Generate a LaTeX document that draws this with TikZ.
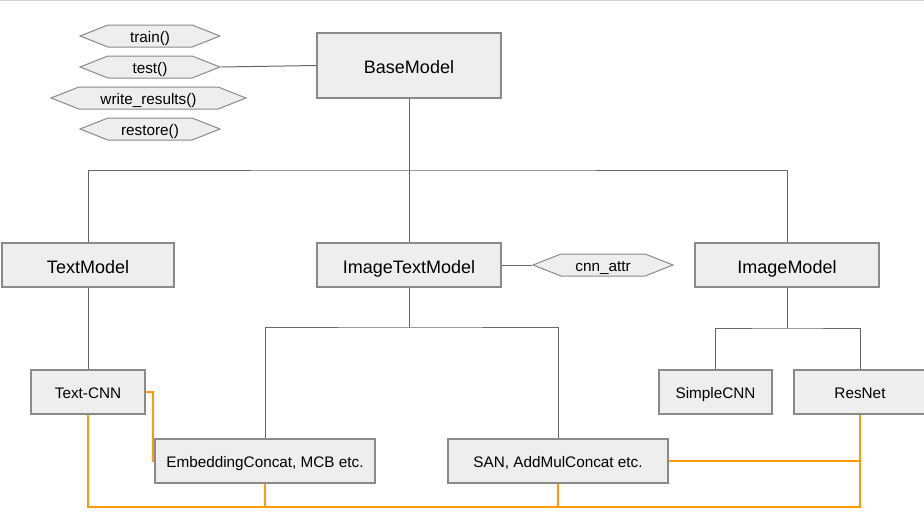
\documentclass[tikz,border=0pt]{standalone}
\usepackage{fontspec}
\setmainfont{Liberation Sans}
\usetikzlibrary{shapes.symbols}
\definecolor{boxfill}{HTML}{EEEEEE}
\definecolor{boxline}{HTML}{8A8A8A}
\definecolor{wirecol}{HTML}{666666}
\definecolor{linkcol}{HTML}{FF9A00}
\tikzset{
	bigbox/.style={draw=boxline, fill=boxfill, line width=1.2pt, minimum width=184pt, minimum height=44pt, inner sep=0pt, text height=16.5pt, text depth=0pt, font=\fontsize{18}{20}\selectfont},
	smallbox/.style={draw=boxline, fill=boxfill, line width=1.2pt, minimum height=44pt, inner sep=0pt, text height=13.5pt, text depth=0pt, font=\fontsize{15.3}{17}\selectfont},
	method/.style={signal, signal to=east and west, signal pointer angle=43, draw=boxline, fill=boxfill, line width=1pt, minimum width=140pt, minimum height=22pt, inner sep=0pt, text height=13.5pt, text depth=0pt, font=\fontsize{15.3}{17}\selectfont},
	wire/.style={draw=wirecol, line width=1pt},
	link/.style={draw=linkcol, line width=2pt}
}

\begin{document}
\begin{tikzpicture}[x=1pt, y=-1pt]
			%%%%% START %%%%%
			\useasboundingbox (0, 0) rectangle (924, 522);
			\draw[draw=black!18, line width=1.2pt] (0, 0.6) -- (924, 0.6);
			
			\node[bigbox, minimum height=65pt] (base) at (409, 65.5) {BaseModel};
			
			\node[method] (train) at (150, 36) {train()};
			\node[method] (test) at (150, 67) {test()};
			\node[method, minimum width=195pt] (write) at (148.5, 98) {write\_results()};
			\node[method] (restore) at (150, 129) {restore()};
			
			\node[bigbox, minimum width=172pt] (text) at (88, 265) {TextModel};
			\node[bigbox] (imgtext) at (409, 265) {ImageTextModel};
			\node[method] (cnnattr) at (603, 265) {cnn\_attr};
			\node[bigbox] (image) at (787, 265) {ImageModel};
			
			\node[smallbox, minimum width=114pt] (textcnn) at (88, 392) {Text-CNN};
			\node[smallbox, minimum width=113pt] (simple) at (715.5, 392) {SimpleCNN};
			\node[smallbox, minimum width=132pt] (resnet) at (860, 392) {ResNet};
			
			\node[smallbox, minimum width=220pt] (embed) at (265, 461) {EmbeddingConcat, MCB etc.};
			\node[smallbox, minimum width=220pt] (san) at (558, 461) {SAN, AddMulConcat etc.};
			
			\coordinate (split) at (409, 170);
			\coordinate (fork) at (409, 327);
			\coordinate (imgfork) at (787, 328);
			\coordinate (bus) at (860, 507);
			
			\draw[wire] (test.east) -- (base.west);
			\draw[wire] (base.south) -- (split);
			\draw[wire] (text.north) |- (split) -| (image.north);
			\draw[wire] (split) -- (imgtext.north);
			\draw[wire] (imgtext.east) -- (cnnattr.west);
			
			\draw[wire] (text.south) -- (textcnn.north);
			\draw[wire] (imgtext.south) -- (fork);
			\draw[wire] (embed.north) |- (fork) -| (san.north);
			\draw[wire] (image.south) -- (imgfork);
			\draw[wire] (simple.north) |- (imgfork) -| (resnet.north);
			
			\draw[link] (textcnn.east) -- ++(7, 0) |- (embed.west);
			\draw[link] (textcnn.south) |- (bus) -- (resnet.south);
			\draw[link] (embed.south) -- (embed.south |- bus);
			\draw[link] (san.south) -- (san.south |- bus);
			\draw[link] (san.east) -- (san.east -| resnet.south);
			
			%%%%% END %%%%%
\end{tikzpicture}
\end{document}
